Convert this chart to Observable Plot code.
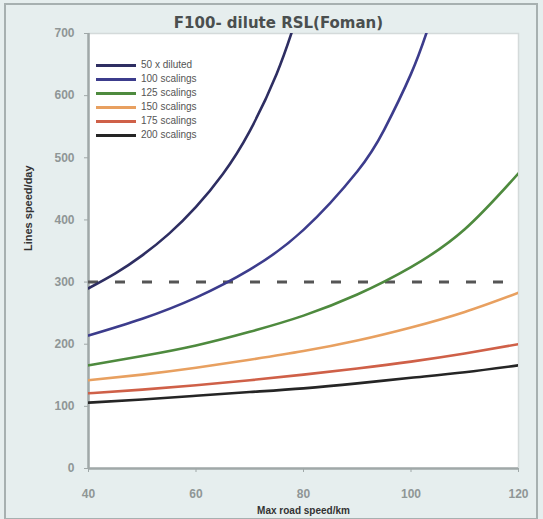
<!DOCTYPE html>
<html>
<head>
<meta charset="utf-8">
<script src="https://cdn.jsdelivr.net/npm/d3@7"></script>
<script src="https://cdn.jsdelivr.net/npm/@observablehq/plot@0.6"></script>
<style>
  html, body { margin: 0; padding: 0; background: #ffffff; }
  #wrap { position: relative; width: 543px; height: 519px; background: #e6eeee; overflow: hidden; }
  #border { position: absolute; left: 4px; top: 3px; width: 530px; height: 513px; border: 2px solid #a7b0b0; box-sizing: content-box; pointer-events: none; }
  #legend { position: absolute; left: 96px; top: 58px; font: 10px Arial, "Liberation Sans", sans-serif; color: #555; line-height: 14px; }
  #legend .row { display: flex; align-items: center; height: 14px; }
  #legend .sw { width: 40px; height: 3px; margin-right: 5px; }
</style>
</head>
<body>
<div id="wrap"><div id="chart"></div><div id="legend"></div><div id="border"></div></div>
<script>
const title = "F100- dilute RSL(Foman)";
const xLabel = "Max road speed/km";
const yLabel = "Lines speed/day";
const seriesNames = ["50 x diluted", "100 scalings", "125 scalings", "150 scalings", "175 scalings", "200 scalings"];
const seriesColors = ["#2e2e62", "#3c3c8c", "#4e8a3e", "#e8a060", "#cf6048", "#252525"];
const xTicks = [40, 60, 80, 100, 120];
const yTicks = [0, 100, 200, 300, 400, 500, 600, 700];
const limitValue = 300;

// values
const xs1 = [40, 45, 50, 55, 60, 65, 70, 75, 78];
const s1 = [290, 314, 343, 378, 421, 474, 543, 635, 707];
const xs2 = [40, 50, 60, 70, 80, 90, 95, 100, 103];
const s2 = [214, 241, 275, 320, 384, 478, 545, 635, 704];
const xsAll = [40, 50, 60, 70, 80, 90, 100, 110, 120];
const s3 = [166, 181, 198, 220, 246, 280, 324, 385, 475];
const s4 = [142, 151, 162, 175, 189, 206, 227, 252, 283];
const s5 = [121, 127, 134, 142, 151, 161, 172, 185, 200];
const s6 = [106, 111, 117, 123, 129, 137, 146, 155, 166];

const seriesX = [xs1, xs2, xsAll, xsAll, xsAll, xsAll];
const seriesY = [s1, s2, s3, s4, s5, s6];
const rows = [];
seriesY.forEach((ys, i) => ys.forEach((v, j) => rows.push({series: seriesNames[i], x: seriesX[i][j], y: v})));

const font = 'Arial, "Liberation Sans", sans-serif';
const plot = Plot.plot({
  width: 543,
  height: 519,
  marginLeft: 88,
  marginRight: 25,
  marginTop: 33,
  marginBottom: 51,
  style: {background: "transparent", fontFamily: font, fontSize: "12px", color: "#8a9090"},
  x: {domain: [40, 120], ticks: xTicks, label: null},
  y: {domain: [0, 700], ticks: yTicks, label: null},
  color: {domain: seriesNames, range: seriesColors},
  marks: [
    Plot.frame({fill: "white", stroke: "none"}),
    Plot.frame({stroke: "#d4dada", strokeWidth: 1.5, fill: "none"}),
    Plot.ruleX([40], {stroke: "#a0a8a8", strokeWidth: 2.5}),
    Plot.ruleY([0], {stroke: "#a0a8a8", strokeWidth: 2.5}),
    Plot.ruleY([limitValue], {x1: 40, x2: 120, stroke: "#555", strokeWidth: 3, strokeDasharray: "10,17"}),
    Plot.line(rows, {x: "x", y: "y", z: "series", stroke: "series", strokeWidth: 2.6, curve: "natural", clip: true}),
    Plot.axisX({ticks: xTicks, tickSize: 4, tickPadding: 17, stroke: "#a0a8a8", fill: "#8f9696", fontWeight: "bold", fontSize: 12, label: null}),
    Plot.axisY({ticks: yTicks, tickSize: 4, tickPadding: 10, stroke: "#a0a8a8", fill: "#8f9696", fontWeight: "bold", fontSize: 12, label: null}),
    Plot.text([title], {frameAnchor: "top", dy: -16, dx: -25, fontSize: 15, fontWeight: "bold", fill: "#4a4f4f", fontFamily: '"DejaVu Sans", sans-serif'}),
    Plot.text([xLabel], {frameAnchor: "bottom", dy: 45, fontSize: 10, fontWeight: "bold", fill: "#333", fontFamily: font}),
    Plot.text([yLabel], {frameAnchor: "left", dx: -60, rotate: -90, fontSize: 11, fontWeight: "bold", fill: "#333", fontFamily: font})
  ]
});
document.getElementById("chart").appendChild(plot);

const leg = document.getElementById("legend");
seriesNames.forEach((n, i) => {
  const r = document.createElement("div");
  r.className = "row";
  r.innerHTML = `<span class="sw" style="background:${seriesColors[i]}"></span><span>${n}</span>`;
  leg.appendChild(r);
});
</script>
</body>
</html>
